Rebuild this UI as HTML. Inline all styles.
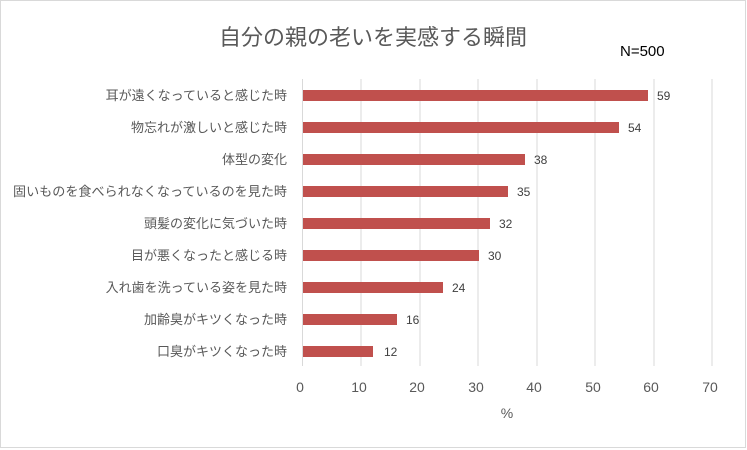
<!DOCTYPE html>
<html><head><meta charset="utf-8"><style>
body{margin:0;background:#fff}
svg{display:block;font-family:"Liberation Sans","Noto Sans CJK JP",sans-serif}
</style></head><body>
<svg width="747" height="450" viewBox="0 0 747 450">
<rect x="0.5" y="0.5" width="745" height="447" fill="#fff" stroke="#d9d9d9"/>
<text x="373" y="45" font-size="22" fill="#595959" text-anchor="middle">自分の親の老いを実感する瞬間</text>
<text x="620" y="56" font-size="15" fill="#000">N=500</text>
<g stroke="#d9d9d9" stroke-width="1">
<line x1="361" y1="79" x2="361" y2="366"/><line x1="420" y1="79" x2="420" y2="366"/>
<line x1="478" y1="79" x2="478" y2="366"/><line x1="537" y1="79" x2="537" y2="366"/>
<line x1="595" y1="79" x2="595" y2="366"/><line x1="654" y1="79" x2="654" y2="366"/>
<line x1="712" y1="79" x2="712" y2="366"/><line x1="302.5" y1="79" x2="302.5" y2="366"/>
</g>
<g fill="#c0504d">
<rect x="303" y="90" width="345" height="11"/>
<rect x="303" y="122" width="316" height="11"/>
<rect x="303" y="154" width="222" height="11"/>
<rect x="303" y="186" width="205" height="11"/>
<rect x="303" y="218" width="187" height="11"/>
<rect x="303" y="250" width="176" height="11"/>
<rect x="303" y="282" width="140" height="11"/>
<rect x="303" y="314" width="94" height="11"/>
<rect x="303" y="346" width="70" height="11"/>
</g>
<g font-size="12" fill="#404040">
<text x="657" y="100">59</text><text x="628" y="132">54</text><text x="534" y="164">38</text>
<text x="517" y="196">35</text><text x="499" y="228">32</text><text x="488" y="260">30</text>
<text x="452" y="292">24</text><text x="406" y="324">16</text><text x="384" y="356">12</text>
</g>
<g font-size="13" fill="#595959" text-anchor="end">
<text x="287" y="100">耳が遠くなっていると感じた時</text>
<text x="287" y="132">物忘れが激しいと感じた時</text>
<text x="287" y="164">体型の変化</text>
<text x="287" y="196" textLength="274" lengthAdjust="spacingAndGlyphs">固いものを食べられなくなっているのを見た時</text>
<text x="287" y="228">頭髪の変化に気づいた時</text>
<text x="287" y="260">目が悪くなったと感じる時</text>
<text x="287" y="292">入れ歯を洗っている姿を見た時</text>
<text x="287" y="324">加齢臭がキツくなった時</text>
<text x="287" y="356">口臭がキツくなった時</text>
</g>
<g font-size="14" fill="#595959" text-anchor="middle">
<text x="300" y="392">0</text><text x="359" y="392">10</text><text x="417" y="392">20</text>
<text x="476" y="392">30</text><text x="534" y="392">40</text><text x="593" y="392">50</text>
<text x="651" y="392">60</text><text x="710" y="392">70</text>
<text x="507" y="418">%</text>
</g>
</svg>
</body></html>
